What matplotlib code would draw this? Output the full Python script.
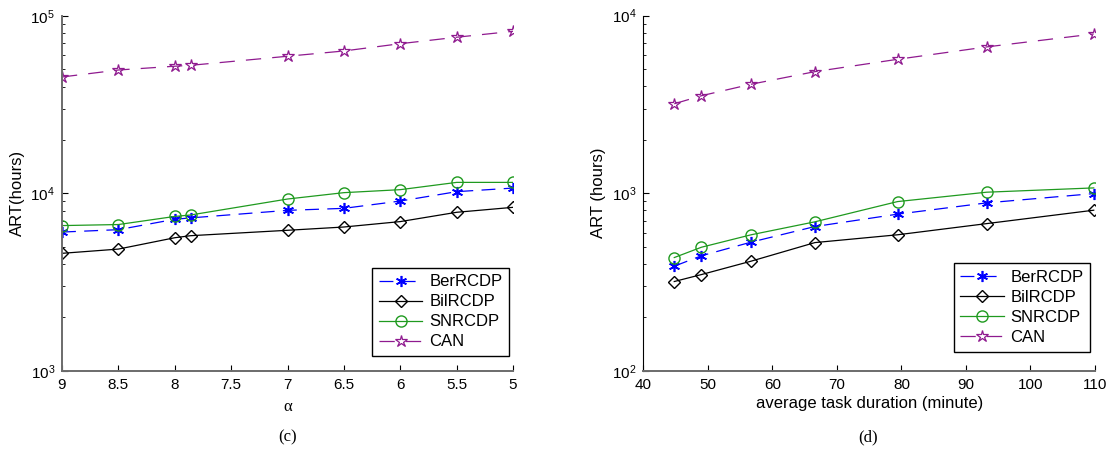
import numpy as np
import matplotlib
matplotlib.use("Agg")
import matplotlib.pyplot as plt
from matplotlib.ticker import LogLocator, NullFormatter, MultipleLocator

plt.rcParams['font.family'] = ['Liberation Sans', 'DejaVu Sans']
plt.rcParams['mathtext.fontset'] = 'custom'
plt.rcParams['mathtext.rm'] = 'Liberation Sans'
plt.rcParams['mathtext.it'] = 'Liberation Sans'
plt.rcParams['lines.scale_dashes'] = False

# (c) ART vs alpha
alpha = [9, 8.5, 8, 7.86, 7, 6.5, 6, 5.5, 5]
c_ber = [6050, 6240, 7140, 7270, 8020, 8230, 9050, 10220, 10710]
c_bil = [4590, 4850, 5620, 5770, 6190, 6460, 6930, 7820, 8340]
c_snr = [6580, 6670, 7410, 7550, 9290, 10090, 10490, 11530, 11530]
c_can = [45300, 49600, 52100, 52700, 59300, 63500, 69800, 75900, 82000]

# (d) ART vs average task duration
duration = [44.8, 49.0, 56.7, 66.6, 79.4, 93.2, 109.8]
d_ber = [388, 444, 530, 649, 762, 882, 995]
d_bil = [318, 348, 414, 527, 583, 674, 802]
d_snr = [434, 496, 583, 690, 897, 1013, 1071]
d_can = [3190, 3540, 4110, 4840, 5680, 6670, 7890]

labels = ['BerRCDP', 'BilRCDP', 'SNRCDP', 'CAN']
blue = '#0000ff'
green = '#1f9a1f'
purple = '#8f1a8f'

fig = plt.figure(figsize=(11.14, 4.74), dpi=100)
ax1 = fig.add_axes([62/1114, 1-370.7/474, 451/1114, 354.7/474])
ax2 = fig.add_axes([643.3/1114, 1-370.7/474, 451.7/1114, 355/474])


def draw(ax, x, ber, bil, snr, can):
    # asterisk marker like matlab '*'
    ax.plot(x, ber, color=blue, lw=0.9, dashes=(10, 6), marker=(6, 2, 0), ms=8,
            mec=blue, mew=1.2, label=labels[0])
    ax.plot(x, bil, color='k', lw=0.9, marker='D', ms=6.5, mfc='none',
            mec='k', label=labels[1])
    ax.plot(x, snr, color=green, lw=0.9, marker='o', ms=8, mfc='none',
            mec=green, label=labels[2])
    ax.plot(x, can, color=purple, lw=0.9, dashes=(11, 8), marker='*', ms=9,
            mfc='none', mec=purple, mew=0.9, label=labels[3])
    ax.set_yscale('log')
    ax.yaxis.set_minor_locator(LogLocator(base=10, subs=np.arange(2, 10)))
    ax.yaxis.set_minor_formatter(NullFormatter())
    ax.spines['top'].set_visible(False)
    ax.spines['right'].set_visible(False)
    ax.tick_params(which='both', direction='in', labelsize=11, top=False, right=False)
    ax.tick_params(which='major', length=4, pad=5)
    ax.tick_params(which='minor', length=2.5)
    ax.patch.set_visible(False)


draw(ax1, alpha, c_ber, c_bil, c_snr, c_can)
ax1.set_xlim(9, 5)
ax1.set_ylim(1e3, 1e5)
ax1.xaxis.set_major_locator(MultipleLocator(0.5))
ax1.xaxis.set_major_formatter(plt.FuncFormatter(lambda v, p: ('%g' % v)))
for s in ['left', 'bottom']:
    ax1.spines[s].set_color('#6b6b6b')
    ax1.spines[s].set_linewidth(1.4)
ax1.set_ylabel('ART(hours)', fontsize=12, labelpad=4)
ax1.set_xlabel('α', fontsize=12, family=['Liberation Serif'], labelpad=5)

draw(ax2, duration, d_ber, d_bil, d_snr, d_can)
ax2.set_xlim(40, 110)
ax2.set_ylim(1e2, 1e4)
ax2.xaxis.set_major_locator(MultipleLocator(10))
ax2.spines['left'].set_color('k')
ax2.spines['bottom'].set_color('#6b6b6b')
ax2.spines['bottom'].set_linewidth(1.4)
ax2.set_ylabel('ART (hours)', fontsize=12, labelpad=4)
ax2.set_xlabel('average task duration (minute)', fontsize=12, labelpad=3)

for ax, anchor in [(ax1, (0.991, 0.041)), (ax2, (0.989, 0.054))]:
    lg = ax.legend(loc='lower right', bbox_to_anchor=anchor, fontsize=12,
                   handlelength=2.6, labelspacing=0.3, borderpad=0.4,
                   handletextpad=0.4, borderaxespad=0, fancybox=False,
                   framealpha=1)
    lg.get_frame().set_edgecolor('k')
    lg.get_frame().set_linewidth(1.0)

fig.text(288/1114, 1-437/474, '(c)', ha='center', va='center',
         fontsize=12, family=['Liberation Serif'])
fig.text(868/1114, 1-437/474, '(d)', ha='center', va='center',
         fontsize=12, family=['Liberation Serif'])

fig.savefig('out.png', dpi=100)
